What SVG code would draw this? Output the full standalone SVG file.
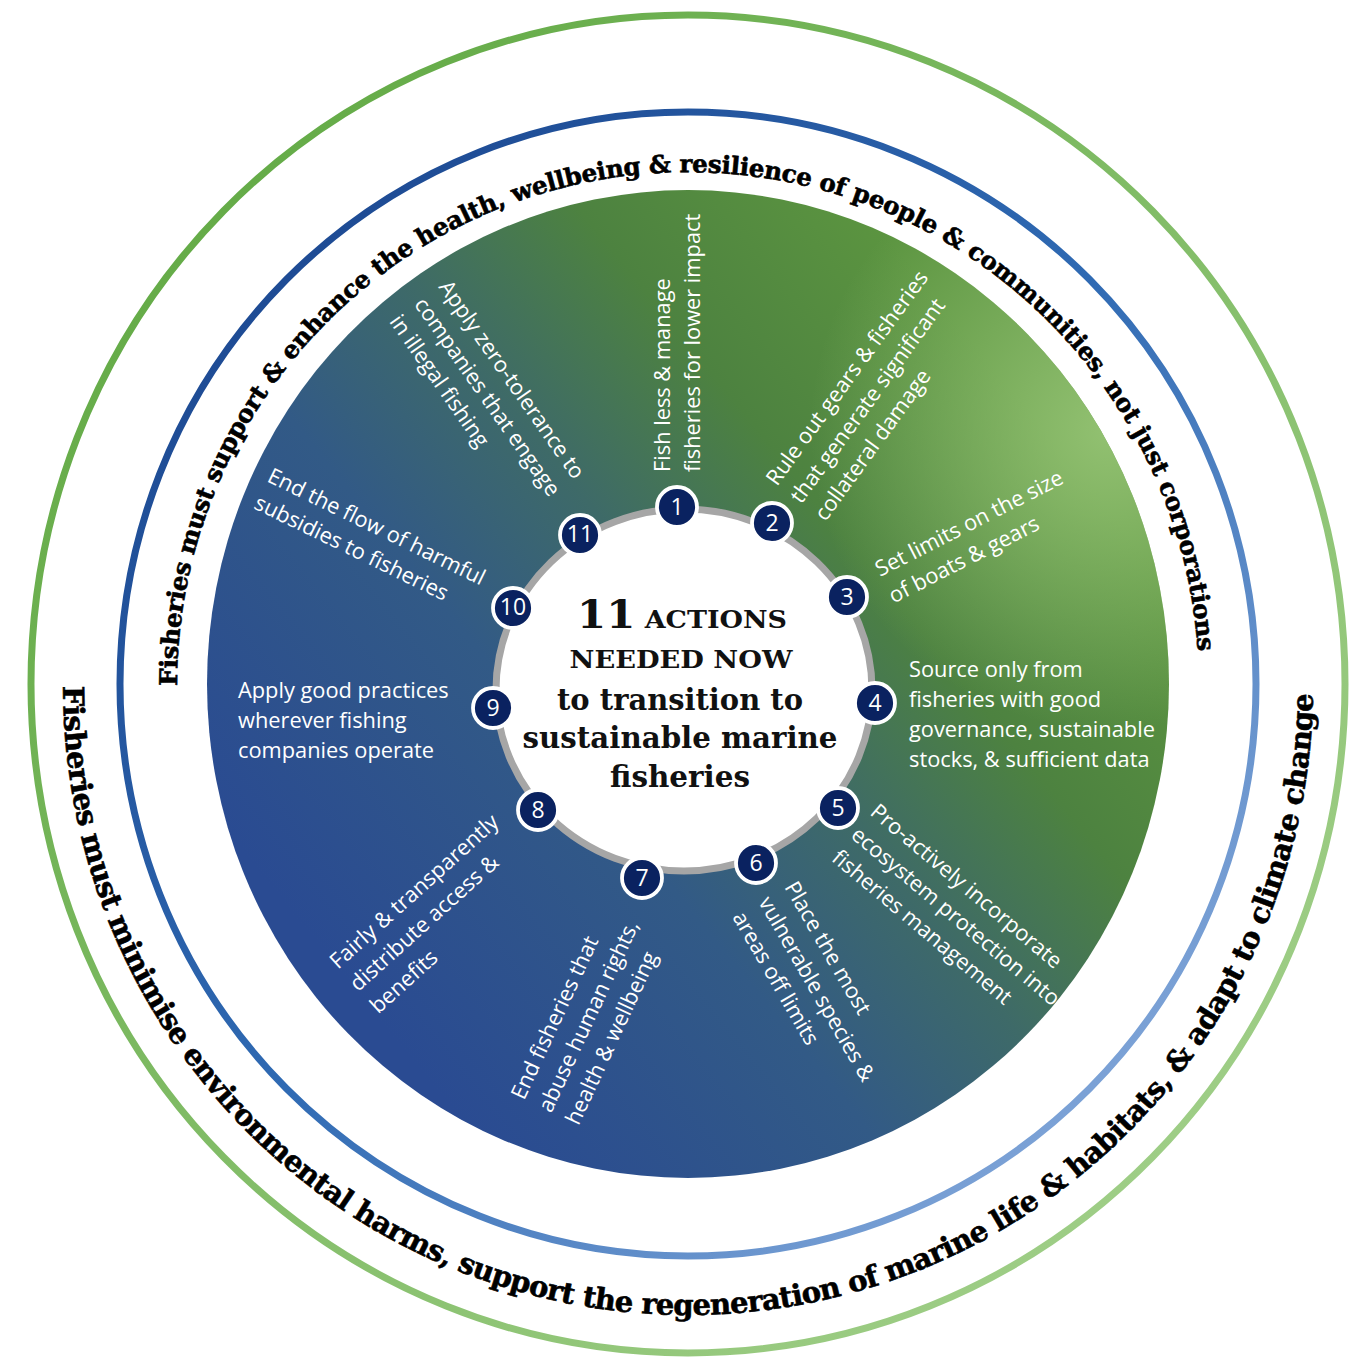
<svg xmlns="http://www.w3.org/2000/svg" width="1353" height="1359" viewBox="0 0 1353 1359">
<style>
.lbl{font-family:"Open Sans","DejaVu Sans",sans-serif;font-size:21.8px;fill:#ffffff}
.num{font-family:"Open Sans","DejaVu Sans",sans-serif;font-size:23px;fill:#ffffff;text-anchor:middle}
.badge{fill:#0a2260;stroke:#ffffff;stroke-width:3.8}
.arc{font-family:"DejaVu Serif",serif;font-weight:bold;fill:#000000;stroke:#000000;stroke-width:0.6}
.ctr{font-family:"DejaVu Serif",serif;font-weight:bold;fill:#111111;text-anchor:middle}
</style>
<defs>
<linearGradient id="diskGrad" gradientUnits="userSpaceOnUse" x1="330" y1="960" x2="1020" y2="400">
<stop offset="0" stop-color="#2a4b92"/>
<stop offset="0.35" stop-color="#325a86"/>
<stop offset="0.55" stop-color="#3e6a68"/>
<stop offset="0.75" stop-color="#4d8240"/>
<stop offset="1" stop-color="#5b9440"/>
</linearGradient>
<radialGradient id="hl" gradientUnits="userSpaceOnUse" cx="1110" cy="430" r="300">
<stop offset="0" stop-color="#9cc97a" stop-opacity="0.85"/>
<stop offset="1" stop-color="#9cc97a" stop-opacity="0"/>
</radialGradient>
<linearGradient id="blueRing" x1="0" y1="0" x2="1" y2="1">
<stop offset="0" stop-color="#173f88"/>
<stop offset="0.5" stop-color="#2f6ab3"/>
<stop offset="1" stop-color="#9ab8e4"/>
</linearGradient>
<linearGradient id="greenRing" x1="0" y1="0" x2="1" y2="1">
<stop offset="0" stop-color="#5aa53c"/>
<stop offset="1" stop-color="#a9d492"/>
</linearGradient>
<path id="topArc" d="M 177 686 A 511 514 0 0 1 1199 686"/>
<path id="botArc" d="M 63 686 A 625 629 0 0 0 1313 686"/>
</defs>

<g id="rings">
<ellipse cx="688" cy="684" rx="657" ry="669" fill="none" stroke="url(#greenRing)" stroke-width="7"/>
<ellipse cx="688" cy="684" rx="568" ry="572" fill="none" stroke="url(#blueRing)" stroke-width="7"/>
</g>

<g id="disk">
<ellipse cx="688" cy="684" rx="481" ry="494" fill="url(#diskGrad)"/>
<ellipse cx="688" cy="684" rx="481" ry="494" fill="url(#hl)"/>
</g>

<g id="arc-texts">
<text class="arc" font-size="24.5"><textPath href="#topArc" textLength="1575" lengthAdjust="spacing">Fisheries must support &amp; enhance the health, wellbeing &amp; resilience of people &amp; communities, not just corporations</textPath></text>
<text class="arc" font-size="29"><textPath href="#botArc" textLength="1962" lengthAdjust="spacing">Fisheries must minimise environmental harms, support the regeneration of marine life &amp; habitats, &amp; adapt to climate change</textPath></text>
</g>

<g id="center">
<ellipse cx="684" cy="690" rx="188" ry="181" fill="#ffffff" stroke="#a6a6a6" stroke-width="7"/>
<text class="ctr" x="682" y="628" textLength="210" lengthAdjust="spacingAndGlyphs"><tspan font-size="39">11</tspan><tspan font-size="25"> ACTIONS</tspan></text>
<text class="ctr" x="681" y="668" font-size="25" textLength="223" lengthAdjust="spacingAndGlyphs">NEEDED NOW</text>
<text class="ctr" x="680" y="710" font-size="29" textLength="246" lengthAdjust="spacingAndGlyphs">to transition to</text>
<text class="ctr" x="680" y="748" font-size="29" textLength="315" lengthAdjust="spacingAndGlyphs">sustainable marine</text>
<text class="ctr" x="680" y="787" font-size="29" textLength="140" lengthAdjust="spacingAndGlyphs">fisheries</text>
</g>

<g id="connectors"></g>

<g id="action-1">
<circle class="badge" cx="677" cy="507" r="20"/><text class="num" x="677" y="515">1</text>
<text class="lbl" transform="translate(670 472) rotate(-90)"><tspan x="0" y="0">Fish less &amp; manage</tspan><tspan x="0" y="30">fisheries for lower impact</tspan></text>
</g>
<g id="action-2">
<circle class="badge" cx="772" cy="523" r="20"/><text class="num" x="772" y="531">2</text>
<text class="lbl" transform="translate(777 487) rotate(-54)"><tspan x="0" y="0">Rule out gears &amp; fisheries</tspan><tspan x="0" y="30">that generate significant</tspan><tspan x="0" y="60">collateral damage</tspan></text>
</g>
<g id="action-3">
<circle class="badge" cx="847" cy="597" r="20"/><text class="num" x="847" y="605">3</text>
<text class="lbl" transform="translate(880 577) rotate(-27)"><tspan x="0" y="0">Set limits on the size</tspan><tspan x="0" y="30">of boats &amp; gears</tspan></text>
</g>
<g id="action-4">
<circle class="badge" cx="875" cy="703" r="20"/><text class="num" x="875" y="711">4</text>
<text class="lbl" transform="translate(909 677)"><tspan x="0" y="0">Source only from</tspan><tspan x="0" y="30">fisheries with good</tspan><tspan x="0" y="60">governance, sustainable</tspan><tspan x="0" y="90">stocks, &amp; sufficient data</tspan></text>
</g>
<g id="action-5">
<circle class="badge" cx="838" cy="808" r="20"/><text class="num" x="838" y="816">5</text>
<text class="lbl" transform="translate(869 814) rotate(40)"><tspan x="0" y="0">Pro-actively incorporate</tspan><tspan x="0" y="30">ecosystem protection into</tspan><tspan x="0" y="60">fisheries management</tspan></text>
</g>
<g id="action-6">
<circle class="badge" cx="756" cy="863" r="20"/><text class="num" x="756" y="871">6</text>
<text class="lbl" transform="translate(784 887) rotate(60)"><tspan x="0" y="0">Place the most</tspan><tspan x="0" y="30">vulnerable species &amp;</tspan><tspan x="0" y="60">areas off limits</tspan></text>
</g>
<g id="action-7">
<circle class="badge" cx="642" cy="878" r="20"/><text class="num" x="642" y="886">7</text>
<text class="lbl" transform="translate(524 1101) rotate(-65)"><tspan x="0" y="0">End fisheries that</tspan><tspan x="0" y="30">abuse human rights,</tspan><tspan x="0" y="60">health &amp; wellbeing</tspan></text>
</g>
<g id="action-8">
<circle class="badge" cx="538" cy="810" r="20"/><text class="num" x="538" y="818">8</text>
<text class="lbl" transform="translate(338 970) rotate(-42)"><tspan x="0" y="0">Fairly &amp; transparently</tspan><tspan x="0" y="30">distribute access &amp;</tspan><tspan x="0" y="60">benefits</tspan></text>
</g>
<g id="action-9">
<circle class="badge" cx="493" cy="708" r="20"/><text class="num" x="493" y="716">9</text>
<text class="lbl" transform="translate(238 698)"><tspan x="0" y="0">Apply good practices</tspan><tspan x="0" y="30">wherever fishing</tspan><tspan x="0" y="60">companies operate</tspan></text>
</g>
<g id="action-10">
<circle class="badge" cx="513" cy="608" r="20"/><text class="num" x="513" y="615" font-size="19">10</text>
<text class="lbl" transform="translate(266 481) rotate(26)"><tspan x="0" y="0">End the flow of harmful</tspan><tspan x="0" y="30">subsidies to fisheries</tspan></text>
</g>
<g id="action-11">
<circle class="badge" cx="580" cy="535" r="20"/><text class="num" x="580" y="542" font-size="19">11</text>
<text class="lbl" transform="translate(438 287) rotate(55)"><tspan x="0" y="0">Apply zero-tolerance to</tspan><tspan x="0" y="30">companies that engage</tspan><tspan x="0" y="60">in illegal fishing</tspan></text>
</g>
</svg>
